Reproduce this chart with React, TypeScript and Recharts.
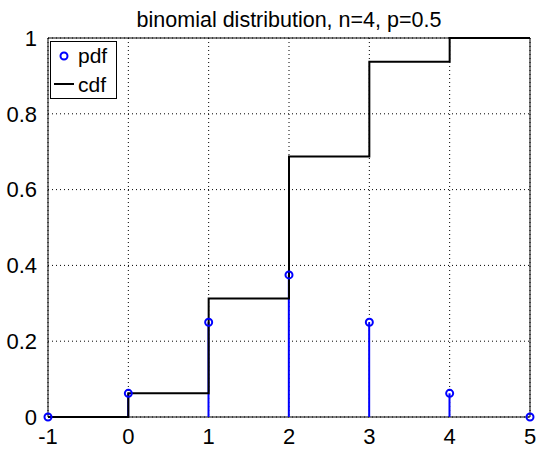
import React from 'react';
import {
  ComposedChart,
  Line,
  Bar,
  Scatter,
  XAxis,
  YAxis,
  CartesianGrid,
  ReferenceArea,
} from 'recharts';

const xs = [-1, 0, 1, 2, 3, 4, 5];
const pdf = [0, 0.0625, 0.25, 0.375, 0.25, 0.0625, 0];
const cdf = [0, 0.0625, 0.3125, 0.6875, 0.9375, 1, 1];
const xTicks = [-1, 0, 1, 2, 3, 4, 5];
const yTicks = [0, 0.2, 0.4, 0.6, 0.8, 1];

const data = xs.map((x, i) => ({ x, pdf: pdf[i], cdf: cdf[i] }));

const FONT = 'Liberation Sans, Arial, sans-serif';

// hollow circle marker, like matlab 'o'
const Ring = (props: any) => {
  const { cx, cy } = props;
  return <circle cx={cx} cy={cy} r={3.5} fill="none" stroke="#0000ff" strokeWidth={2} />;
};

const App = () => {
  return (
    <div style={{ position: 'absolute', left: 0, top: 0, width: 539, height: 450, background: '#fff', fontFamily: FONT }}>
      <ComposedChart
        width={539}
        height={450}
        data={data}
        margin={{ top: 38, right: 9, bottom: 6, left: 6 }}
      >
        <text x={289} y={27} textAnchor="middle" fontSize={21.5} fontFamily={FONT} fill="#000">
          binomial distribution, n=4, p=0.5
        </text>
        <CartesianGrid stroke="#000" strokeDasharray="1 3" strokeWidth={1} />
        <XAxis
          dataKey="x"
          type="number"
          domain={[-1, 5]}
          ticks={xTicks}
          height={27}
          axisLine={false}
          tickLine={false}
          tickMargin={5}
          tick={{ fill: '#000', fontSize: 22, fontFamily: FONT }}
          allowDecimals={false}
        />
        <YAxis
          type="number"
          domain={[0, 1]}
          ticks={yTicks}
          width={42}
          axisLine={false}
          tickLine={false}
          tickMargin={5}
          tick={{ fill: '#000', fontSize: 22, fontFamily: FONT }}
          tickFormatter={(v: number) => String(v)}
        />
        <Bar dataKey="pdf" barSize={2} fill="#0000ff" isAnimationActive={false} />
        <Line
          dataKey="cdf"
          type="stepAfter"
          stroke="#000"
          strokeWidth={2}
          dot={false}
          isAnimationActive={false}
        />
        <Scatter dataKey="pdf" shape={<Ring />} isAnimationActive={false} />
        <ReferenceArea x1={-1} x2={5} y1={0} y2={1} fill="none" stroke="#000" strokeWidth={1} ifOverflow="visible" />
      </ComposedChart>
      {/* legend box */}
      <div
        style={{
          position: 'absolute',
          left: 50,
          top: 41,
          width: 65,
          height: 56,
          border: '1px solid #000',
          background: '#fff',
          fontSize: 21,
          color: '#000',
        }}
      >
        <svg width={26} height={56} style={{ position: 'absolute', left: 0, top: 0 }}>
          <circle cx={13} cy={14} r={3.5} fill="none" stroke="#0000ff" strokeWidth={2} />
          <line x1={3} x2={23} y1={42} y2={42} stroke="#000" strokeWidth={2} />
        </svg>
        <div style={{ position: 'absolute', left: 27, top: 2, lineHeight: '24px' }}>pdf</div>
        <div style={{ position: 'absolute', left: 27, top: 31, lineHeight: '24px' }}>cdf</div>
      </div>
    </div>
  );
};

export default App;
